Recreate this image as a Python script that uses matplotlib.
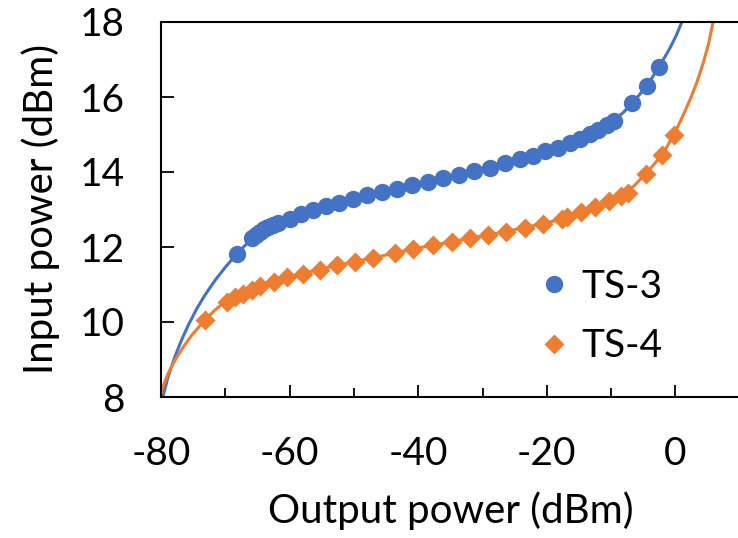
import numpy as np
import matplotlib
matplotlib.use("Agg")
import matplotlib.pyplot as plt

# TS-3 measured points (output power dBm, input power dBm)
ts3_x = [-68.2, -65.9, -65.3, -64.6, -64.0, -63.3, -62.6, -61.8, -59.9, -58.3, -56.3,
         -54.3, -52.3, -50.2, -48.0, -45.7, -43.3, -40.9, -38.4, -36.1, -33.6, -31.3,
         -28.9, -26.5, -24.2, -22.1, -20.3, -18.2, -16.4, -14.8, -13.3, -12.0, -10.7,
         -9.5, -6.7, -4.4, -2.6]
ts3_y = [11.82, 12.23, 12.33, 12.41, 12.48, 12.54, 12.60, 12.65, 12.76, 12.88, 12.99,
         13.09, 13.18, 13.27, 13.39, 13.47, 13.56, 13.65, 13.74, 13.83, 13.92, 14.03,
         14.12, 14.24, 14.34, 14.44, 14.55, 14.65, 14.77, 14.89, 15.02, 15.13, 15.25,
         15.37, 15.84, 16.30, 16.80]

# TS-4 measured points
ts4_x = [-73.2, -69.8, -68.5, -67.2, -65.9, -64.6, -62.5, -60.4, -57.9, -55.3, -52.7,
         -49.8, -47.0, -43.6, -40.8, -37.7, -34.8, -32.0, -29.1, -26.3, -23.4, -20.6,
         -17.7, -16.9, -14.7, -12.5, -10.3, -8.4, -7.4, -4.6, -2.1, -0.2]
ts4_y = [10.05, 10.54, 10.67, 10.76, 10.85, 10.96, 11.07, 11.19, 11.29, 11.39, 11.52,
         11.61, 11.70, 11.83, 11.95, 12.05, 12.14, 12.23, 12.32, 12.41, 12.52, 12.61,
         12.74, 12.80, 12.94, 13.08, 13.23, 13.36, 13.45, 13.95, 14.45, 15.00]

# fitted curves
ts3_fit_x = [-79.64, -78.9, -77.8, -76.8, -75.75, -74.45, -73.2, -71.6, -70.05, -68.2,
             -65.9, -63.3, -59.9, -54.3, -48.0, -40.9, -33.6, -26.5, -20.3, -16.4,
             -13.3, -10.7, -8.2, -6.7, -4.4, -2.6, -1.7, -0.8, 0.1, 1.0]
ts3_fit_y = [8.05, 8.54, 9.09, 9.52, 9.92, 10.35, 10.71, 11.11, 11.45, 11.82,
             12.22, 12.53, 12.77, 13.09, 13.38, 13.65, 13.93, 14.23, 14.55, 14.77,
             15.02, 15.25, 15.57, 15.84, 16.30, 16.80, 17.05, 17.32, 17.63, 18.0]
ts4_fit_x = [-79.9, -78.9, -77.8, -76.5, -75.2, -73.2, -71.6, -70.05, -68.5, -65.9,
             -62.5, -57.9, -52.7, -47.0, -40.8, -34.8, -29.1, -23.4, -17.7, -14.7,
             -12.5, -10.3, -8.4, -6.5, -4.6, -2.1, -0.2, 1.3, 2.4, 3.4, 4.4, 5.2, 5.85]
ts4_fit_y = [8.19, 8.63, 8.99, 9.34, 9.65, 10.05, 10.32, 10.54, 10.68, 10.86,
             11.08, 11.30, 11.51, 11.71, 11.95, 12.14, 12.32, 12.52, 12.74, 12.93,
             13.08, 13.23, 13.37, 13.62, 13.95, 14.45, 15.0, 15.55, 15.98, 16.42,
             16.95, 17.45, 18.0]

xticks = [-80, -60, -40, -20, 0]
yticks = [8, 10, 12, 14, 16, 18]

blue = "#4472C4"
orange = "#ED7D31"

plt.rcParams['font.family'] = ['Lato', 'DejaVu Sans']
plt.rcParams['axes.unicode_minus'] = False

fig = plt.figure(figsize=(7.38, 5.38), dpi=100)
ax = fig.add_axes([161/738, 1-397/538, (739.7-161)/738, (397-22)/538])

ax.plot(ts3_fit_x, ts3_fit_y, color=blue, lw=2.2, zorder=2, solid_joinstyle='round')
ax.plot(ts4_fit_x, ts4_fit_y, color=orange, lw=2.2, zorder=2, solid_joinstyle='round')

ax.plot(ts3_x, ts3_y, 'o', color=blue, ms=12.5, mec='none', label='TS-3', zorder=3)
ax.plot(ts4_x, ts4_y, 'D', color=orange, ms=10, mec='none', label='TS-4', zorder=3)

ax.set_xlim(-80, 10)
ax.set_ylim(8, 18)
ax.set_xticks(xticks)
ax.set_xticks(np.arange(-70, 10, 20), minor=True)
ax.set_yticks(yticks)
ax.tick_params(axis='both', which='major', direction='in', length=9, width=1.3,
               labelsize=28)
ax.tick_params(axis='x', which='minor', direction='in', length=6.5, width=1.3)
ax.tick_params(axis='x', which='major', pad=28)
ax.tick_params(axis='y', which='major', pad=26)
for s in ax.spines.values():
    s.set_linewidth(1.5)
ax.spines['right'].set_visible(False)

ax.set_xlabel('Output power (dBm)', fontsize=29, labelpad=14)
ax.set_ylabel('Input power (dBm)', fontsize=29, labelpad=14)

ax.legend(loc='upper left', bbox_to_anchor=(0.585, 0.435), frameon=False, fontsize=28,
          handletextpad=0.2, labelspacing=0.6, handlelength=1.0)

fig.savefig('out.png', dpi=100)
